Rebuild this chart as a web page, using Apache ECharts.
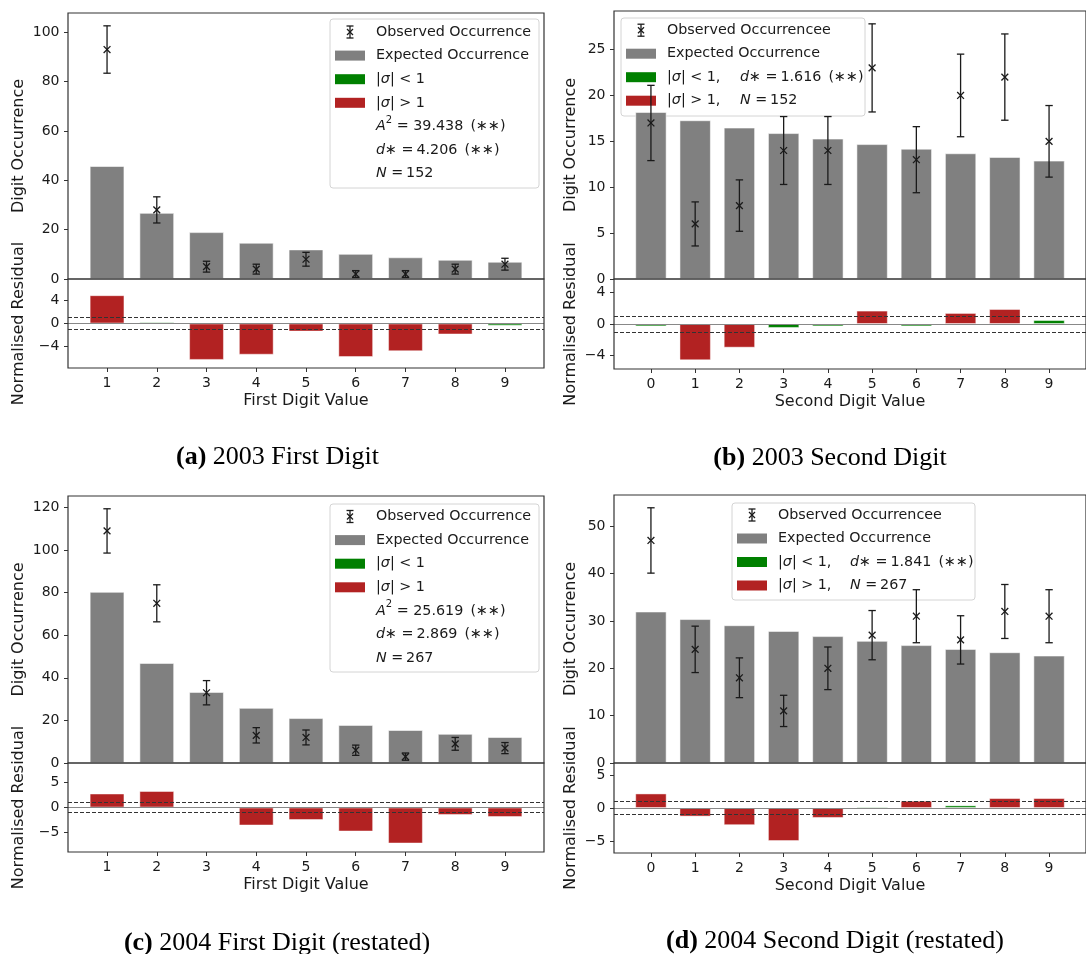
<!DOCTYPE html>
<html>
<head>
<meta charset="utf-8">
<script src="https://cdn.jsdelivr.net/npm/echarts@6/dist/echarts.min.js"></script>
<style>
  html, body { margin: 0; padding: 0; background: #fff; }
  #chart { width: 1086px; height: 954px; }
</style>
</head>
<body>
<div id="chart"></div>
<script>
// Digit categories
const firstDigits = [1, 2, 3, 4, 5, 6, 7, 8, 9];
const secondDigits = [0, 1, 2, 3, 4, 5, 6, 7, 8, 9];

// (a) 2003, first digit
const obs2003First = [93, 28, 5, 4, 8, 2, 2, 4, 6];
const err2003First = [9.6, 5.3, 2.2, 2.0, 2.8, 1.4, 1.4, 2.0, 2.4];
const exp2003First = [45.8, 26.8, 19.0, 14.7, 12.0, 10.2, 8.8, 7.8, 7.0];
const res2003First = [4.9, 0.2, -6.3, -5.4, -1.4, -5.8, -4.8, -1.9, -0.4];
const stats2003First = { a2: '39.438', dStar: '4.206', n: '152' };

// (b) 2003, second digit
const obs2003Second = [17, 6, 8, 14, 14, 23, 13, 20, 22, 15];
const err2003Second = [4.1, 2.4, 2.8, 3.7, 3.7, 4.8, 3.6, 4.5, 4.7, 3.9];
const exp2003Second = [18.2, 17.3, 16.5, 15.9, 15.3, 14.7, 14.2, 13.7, 13.3, 12.9];
const res2003Second = [-0.3, -4.6, -3.0, -0.5, -0.3, 1.7, -0.3, 1.4, 1.9, 0.5];
const stats2003Second = { dStar: '1.616', n: '152' };

// (c) 2004 restated, first digit
const obs2004First = [109, 75, 33, 13, 12, 6, 3, 9, 7];
const err2004First = [10.4, 8.7, 5.7, 3.6, 3.5, 2.4, 1.7, 3.0, 2.6];
const exp2004First = [80.4, 47.0, 33.4, 25.9, 21.1, 17.9, 15.5, 13.7, 12.2];
const res2004First = [2.8, 3.3, -0.1, -3.6, -2.5, -4.8, -7.2, -1.5, -1.9];
const stats2004First = { a2: '25.619', dStar: '2.869', n: '267' };

// (d) 2004 restated, second digit
const obs2004Second = [47, 24, 18, 11, 20, 27, 31, 26, 32, 31];
const err2004Second = [6.9, 4.9, 4.2, 3.3, 4.5, 5.2, 5.6, 5.1, 5.7, 5.6];
const exp2004Second = [32.0, 30.4, 29.1, 27.9, 26.8, 25.8, 24.9, 24.1, 23.4, 22.7];
const res2004Second = [2.2, -1.3, -2.6, -5.0, -1.5, 0.2, 1.1, 0.4, 1.5, 1.5];
const stats2004Second = { dStar: '1.841', n: '267' };

// Tick labels
const ticksMainA = [0, 20, 40, 60, 80, 100];
const ticksMainB = [0, 5, 10, 15, 20, 25];
const ticksMainC = [0, 20, 40, 60, 80, 100, 120];
const ticksMainD = [0, 10, 20, 30, 40, 50];
const ticksResA = [-4, 0, 4];
const ticksResB = [-4, 0, 4];
const ticksResC = [-5, 0, 5];
const ticksResD = [-5, 0, 5];

const GRAY = '#808080', GREEN = '#008000', RED = '#b22222';
const INK = '#1a1a1a';
const FONT = 'DejaVu Sans';
const SERIF = 'Liberation Serif';

const panels = [
  { left: 68, top: 13, width: 476, hMain: 266, hRes: 89,
    cats: firstDigits, obs: obs2003First, err: err2003First, exp: exp2003First, res: res2003First,
    xMin: 0.215, xMax: 9.785, yMax: 107.8, yTicks: ticksMainA, rLim: 7.7, rTicks: ticksResA,
    xName: 'First Digit Value', nameGap: 41 },
  { left: 614, top: 11, width: 479, hMain: 268, hRes: 90,
    cats: secondDigits, obs: obs2003Second, err: err2003Second, exp: exp2003Second, res: res2003Second,
    xMin: -0.835, xMax: 9.835, yMax: 29.2, yTicks: ticksMainB, rLim: 5.7, rTicks: ticksResB,
    xName: 'Second Digit Value', nameGap: 35 },
  { left: 68, top: 496, width: 476, hMain: 267, hRes: 89,
    cats: firstDigits, obs: obs2004First, err: err2004First, exp: exp2004First, res: res2004First,
    xMin: 0.215, xMax: 9.785, yMax: 125.4, yTicks: ticksMainC, rLim: 8.9, rTicks: ticksResC,
    xName: 'First Digit Value', nameGap: 41 },
  { left: 614, top: 495, width: 479, hMain: 268, hRes: 90,
    cats: secondDigits, obs: obs2004Second, err: err2004Second, exp: exp2004Second, res: res2004Second,
    xMin: -0.835, xMax: 9.835, yMax: 56.6, yTicks: ticksMainD, rLim: 6.8, rTicks: ticksResD,
    xName: 'Second Digit Value', nameGap: 35 }
];

const minus = v => String(v).replace('-', '\u2212');
const labelStyle = { fontFamily: FONT, fontSize: 14, color: INK };
const nameStyle = { fontFamily: FONT, fontSize: 16, color: INK };

// Error bar with caps and an "x" marker at the observed value
function renderErrorBar(params, api) {
  const x = api.value(0), y = api.value(1), e = api.value(2);
  const c = api.coord([x, y]);
  const hi = api.coord([x, y + e]);
  const lo = api.coord([x, y - e]);
  const cap = 3.7, m = 3.4;
  const st = { stroke: INK, lineWidth: 1.3, fill: null };
  return {
    type: 'group',
    children: [
      { type: 'line', shape: { x1: c[0], y1: hi[1], x2: c[0], y2: lo[1] }, style: st },
      { type: 'line', shape: { x1: c[0] - cap, y1: hi[1], x2: c[0] + cap, y2: hi[1] }, style: st },
      { type: 'line', shape: { x1: c[0] - cap, y1: lo[1], x2: c[0] + cap, y2: lo[1] }, style: st },
      { type: 'line', shape: { x1: c[0] - m, y1: c[1] - m, x2: c[0] + m, y2: c[1] + m }, style: st },
      { type: 'line', shape: { x1: c[0] - m, y1: c[1] + m, x2: c[0] + m, y2: c[1] - m }, style: st }
    ]
  };
}

const grids = [], xAxes = [], yAxes = [], series = [];

panels.forEach((p, i) => {
  const gMain = 2 * i, gRes = 2 * i + 1;
  const barW = p.width * 0.7 / (p.xMax - p.xMin);
  const frame = { show: true, backgroundColor: 'transparent', borderColor: '#333', borderWidth: 1.2, z: 6 };

  grids.push(Object.assign({ left: p.left, top: p.top, width: p.width, height: p.hMain }, frame));
  grids.push(Object.assign({ left: p.left, top: p.top + p.hMain, width: p.width, height: p.hRes }, frame));

  xAxes.push({ gridIndex: gMain, type: 'value', min: p.xMin, max: p.xMax, show: false,
    axisLine: { onZero: false }, splitLine: { show: false } });
  xAxes.push({ gridIndex: gRes, type: 'value', min: p.xMin, max: p.xMax,
    axisLine: { show: false, onZero: false },
    axisTick: { show: true, customValues: p.cats, length: 4, lineStyle: { color: '#333' } },
    axisLabel: Object.assign({ customValues: p.cats, margin: 8 }, labelStyle),
    splitLine: { show: false },
    name: p.xName, nameLocation: 'middle', nameGap: 25, nameTextStyle: nameStyle });

  yAxes.push({ gridIndex: gMain, type: 'value', min: 0, max: p.yMax,
    axisLine: { show: false, onZero: false },
    axisTick: { show: true, customValues: p.yTicks, length: 4, lineStyle: { color: '#333' } },
    axisLabel: Object.assign({ customValues: p.yTicks, margin: 8.5, formatter: minus }, labelStyle),
    splitLine: { show: false },
    name: 'Digit Occurrence', nameLocation: 'middle', nameGap: p.nameGap, nameTextStyle: nameStyle });
  yAxes.push({ gridIndex: gRes, type: 'value', min: -p.rLim, max: p.rLim,
    axisLine: { show: false, onZero: false },
    axisTick: { show: true, customValues: p.rTicks, length: 4, lineStyle: { color: '#333' } },
    axisLabel: Object.assign({ customValues: p.rTicks, margin: 8.5, formatter: minus }, labelStyle),
    splitLine: { show: false },
    name: 'Normalised Residual', nameLocation: 'middle', nameGap: p.nameGap, nameTextStyle: nameStyle });

  // Expected occurrence bars
  series.push({ type: 'bar', xAxisIndex: gMain, yAxisIndex: gMain, barWidth: barW, silent: true,
    data: p.cats.map((c, k) => [c, p.exp[k]]),
    itemStyle: { color: GRAY, borderColor: 'rgba(255,255,255,0.55)', borderWidth: 1 }, z: 2 });

  // Observed occurrence with error bars
  series.push({ type: 'custom', xAxisIndex: gMain, yAxisIndex: gMain, silent: true, clip: false,
    data: p.cats.map((c, k) => [c, p.obs[k], p.err[k]]),
    encode: { x: 0, y: 1 }, renderItem: renderErrorBar, z: 3 });

  // Normalised residuals, coloured by |sigma| threshold
  series.push({ type: 'bar', xAxisIndex: gRes, yAxisIndex: gRes, barWidth: barW, silent: true,
    data: p.cats.map((c, k) => [c, p.res[k]]),
    itemStyle: {
      color: prm => Math.abs(prm.value[1]) > 1 ? RED : GREEN,
      borderColor: 'rgba(255,255,255,0.45)', borderWidth: 1
    },
    z: 2,
    markLine: {
      silent: true, symbol: 'none', label: { show: false }, z: 5,
      data: [
        { yAxis: 1, lineStyle: { type: [4, 2], color: '#333', width: 1 } },
        { yAxis: -1, lineStyle: { type: [4, 2], color: '#333', width: 1 } },
        { yAxis: 0, lineStyle: { type: 'solid', color: '#888', width: 1 } }
      ]
    } });
});

// Legend boxes drawn as graphic groups
const LEG_FS = 14.3;
const richMath = {
  i: { fontFamily: FONT, fontStyle: 'italic', fontSize: LEG_FS, fill: INK },
  sup: { fontFamily: FONT, fontSize: 10, fill: INK, verticalAlign: 'top', lineHeight: 22 },
  t: { fontFamily: FONT, fontSize: LEG_FS, fill: INK }
};
function legendHandle(kind, cy) {
  if (kind === 'err') {
    const cx = 20, st = { stroke: INK, lineWidth: 1.3 };
    return [
      { type: 'line', shape: { x1: cx, y1: cy - 6, x2: cx, y2: cy + 6 }, style: st },
      { type: 'line', shape: { x1: cx - 3.5, y1: cy - 6, x2: cx + 3.5, y2: cy - 6 }, style: st },
      { type: 'line', shape: { x1: cx - 3.5, y1: cy + 6, x2: cx + 3.5, y2: cy + 6 }, style: st },
      { type: 'line', shape: { x1: cx - 3, y1: cy - 3, x2: cx + 3, y2: cy + 3 }, style: st },
      { type: 'line', shape: { x1: cx - 3, y1: cy + 3, x2: cx + 3, y2: cy - 3 }, style: st }
    ];
  }
  if (!kind) return [];
  const fill = kind === 'gray' ? GRAY : kind === 'green' ? GREEN : RED;
  return [{ type: 'rect', shape: { x: 5, y: cy - 5, width: 30, height: 10 }, style: { fill: fill } }];
}
function legendText(x, cy, text) {
  return { type: 'text', x: x, y: cy,
    style: { text: text, rich: richMath, fontFamily: FONT, fontSize: LEG_FS, fill: INK,
      align: 'left', verticalAlign: 'middle' } };
}
function buildLegend(box, rows, col2) {
  const children = [{ type: 'rect', shape: { x: 0, y: 0, width: box.w, height: box.h, r: 3 },
    style: { fill: 'rgba(255,255,255,0.8)', stroke: '#d4d4d4', lineWidth: 1 } }];
  rows.forEach((row, k) => {
    const cy = box.row0 + k * box.step;
    legendHandle(row[0], cy).forEach(el => children.push(el));
    children.push(legendText(46, cy, row[1]));
    if (row[2]) children.push(legendText(col2, cy, row[2]));
  });
  return { type: 'group', x: box.x, y: box.y, z: 100, children: children };
}
const ast = '\u2217\u2217';
function firstDigitRows(s) {
  return [
    ['err', 'Observed Occurrence'],
    ['gray', 'Expected Occurrence'],
    ['green', '|{i|σ}| < 1'],
    ['red', '|{i|σ}| > 1'],
    [null, '{i|A}{sup|2}{t| = ' + s.a2 + '\u2002(' + ast + ')}'],
    [null, '{i|d}\u2217 =\u2009' + s.dStar + '\u2002(' + ast + ')'],
    [null, '{i|N} =\u2009' + s.n]
  ];
}
function secondDigitRows(s) {
  return [
    ['err', 'Observed Occurrencee'],
    ['gray', 'Expected Occurrence'],
    ['green', '|{i|σ}| < 1,', '{i|d}\u2217 =\u2009' + s.dStar + '\u2002(' + ast + ')'],
    ['red', '|{i|σ}| > 1,', '{i|N} =\u2009' + s.n]
  ];
}

function caption(x, y, tag, title) {
  return { type: 'text', x: x, y: y, z: 100,
    style: { text: '{b|' + tag + '} ' + title,
      rich: { b: { fontFamily: SERIF, fontWeight: 'bold', fontSize: 26, fill: '#000' } },
      fontFamily: SERIF, fontSize: 26, fill: '#000', align: 'center', verticalAlign: 'middle' } };
}

const graphics = [
  buildLegend({ x: 330, y: 19, w: 209, h: 169, row0: 13, step: 23.6 }, firstDigitRows(stats2003First)),
  buildLegend({ x: 621, y: 18, w: 244, h: 98, row0: 12.2, step: 23.5 }, secondDigitRows(stats2003Second), 119),
  buildLegend({ x: 330, y: 504, w: 209, h: 168, row0: 12.5, step: 23.6 }, firstDigitRows(stats2004First)),
  buildLegend({ x: 732, y: 503, w: 243, h: 97, row0: 12, step: 23.5 }, secondDigitRows(stats2004Second), 118),
  caption(277.5, 457, '(a)', '2003 First Digit'),
  caption(830, 458, '(b)', '2003 Second Digit'),
  caption(277, 943, '(c)', '2004 First Digit (restated)'),
  caption(835, 941, '(d)', '2004 Second Digit (restated)')
];

const chart = echarts.init(document.getElementById('chart'));
chart.setOption({
  animation: false,
  backgroundColor: '#fff',
  textStyle: { fontFamily: FONT },
  grid: grids,
  xAxis: xAxes,
  yAxis: yAxes,
  series: series,
  graphic: graphics
});
</script>
</body>
</html>
